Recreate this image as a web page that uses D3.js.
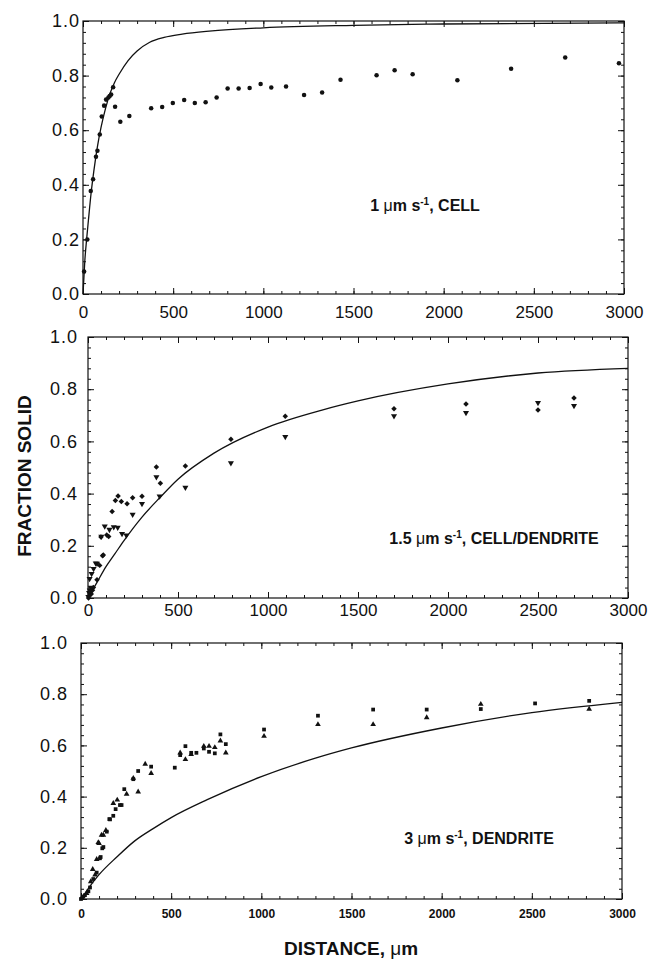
<!DOCTYPE html>
<html>
<head>
<meta charset="utf-8">
<script src="https://cdn.jsdelivr.net/npm/d3@7"></script>
<style>
  body { margin: 0; background: #fff; }
  svg { display: block; }
  text { font-family: "Liberation Sans", Arial, sans-serif; fill: #111; }
</style>
</head>
<body>
<div id="chart"></div>
<script>
// tick labels
const xTickValues = [0, 500, 1000, 1500, 2000, 2500, 3000];
const yTickValues = [0, 0.2, 0.4, 0.6, 0.8, 1.0];

// 1 um/s, cell : measured points + model curve
const cellPoints = [[6,0.082],[24,0.20],[43,0.377],[56,0.42],[72,0.503],[80,0.525],[93,0.584],[104,0.65],[117,0.69],[128,0.712],[141,0.72],[148,0.725],[156,0.731],[167,0.757],[178,0.686],[207,0.631],[257,0.652],[378,0.68],[439,0.685],[498,0.70],[561,0.711],[620,0.70],[680,0.702],[741,0.72],[802,0.753],[863,0.753],[924,0.755],[985,0.769],[1044,0.756],[1126,0.76],[1226,0.729],[1326,0.738],[1428,0.785],[1628,0.801],[1728,0.82],[1828,0.805],[2076,0.783],[2374,0.825],[2674,0.866],[2972,0.845]];
const cellCurve = [[0,0],[5,0.06],[10,0.12],[20,0.2],[30,0.27],[45,0.37],[60,0.45],[80,0.54],[100,0.61],[125,0.68],[150,0.735],[175,0.775],[200,0.805],[250,0.855],[300,0.89],[370,0.922],[450,0.94],[550,0.952],[700,0.963],[1000,0.975],[1500,0.984],[2000,0.989],[3000,0.993]];

// 1.5 um/s, cell/dendrite
const cdDiamonds = [[3,0.0],[8,0.01],[12,0.02],[18,0.015],[25,0.03],[30,0.04],[50,0.07],[65,0.125],[72,0.234],[81,0.162],[85,0.165],[104,0.241],[115,0.236],[134,0.331],[152,0.374],[167,0.391],[185,0.37],[217,0.361],[248,0.384],[300,0.39],[380,0.502],[402,0.44],[541,0.506],[794,0.608],[1096,0.696],[1700,0.725],[2100,0.743],[2500,0.72],[2700,0.766]];
const cdTriangles = [[2,0.005],[6,0.02],[10,0.03],[15,0.04],[9,0.074],[20,0.093],[31,0.112],[43,0.133],[50,0.132],[74,0.236],[93,0.275],[119,0.262],[143,0.272],[165,0.27],[189,0.246],[213,0.24],[248,0.32],[300,0.361],[380,0.464],[398,0.39],[541,0.423],[794,0.517],[1096,0.618],[1700,0.697],[2100,0.71],[2500,0.748],[2700,0.737]];
const cdCurve = [[0,0],[25,0.03],[50,0.06],[100,0.12],[150,0.17],[200,0.22],[300,0.31],[400,0.385],[500,0.455],[700,0.555],[1000,0.655],[1300,0.72],[1500,0.755],[2000,0.82],[2500,0.862],[3000,0.88]];

// 3 um/s, dendrite
const dSquares = [[0,0],[13,0.01],[22,0.015],[41,0.03],[50,0.045],[68,0.078],[87,0.103],[105,0.159],[109,0.164],[118,0.198],[124,0.203],[143,0.263],[157,0.312],[161,0.311],[179,0.325],[192,0.351],[216,0.367],[225,0.367],[240,0.429],[290,0.468],[317,0.50],[389,0.517],[520,0.513],[550,0.562],[579,0.597],[611,0.571],[640,0.571],[681,0.588],[710,0.575],[742,0.569],[773,0.643],[803,0.605],[1015,0.662],[1314,0.716],[1620,0.74],[1917,0.74],[2217,0.742],[2518,0.764],[2818,0.774]];
const dTriangles = [[5,0.005],[31,0.022],[54,0.068],[65,0.116],[78,0.094],[87,0.155],[96,0.221],[100,0.217],[114,0.25],[124,0.25],[138,0.268],[179,0.374],[201,0.387],[253,0.41],[290,0.472],[317,0.419],[356,0.527],[389,0.491],[550,0.571],[579,0.545],[611,0.565],[681,0.597],[710,0.597],[742,0.592],[773,0.618],[803,0.571],[1015,0.636],[1314,0.682],[1620,0.682],[1917,0.709],[2217,0.761],[2818,0.742]];
const dCurve = [[0,0],[25,0.025],[50,0.05],[100,0.095],[200,0.165],[300,0.228],[400,0.275],[500,0.318],[700,0.388],[1000,0.478],[1300,0.55],[1500,0.59],[2000,0.668],[2500,0.728],[3000,0.768]];

const W = 649, H = 959;
const ink = "#111";

const svg = d3.select("#chart")
    .append("svg")
    .attr("width", W)
    .attr("height", H);

const drawPanel = (p) => {
    const x = d3.scaleLinear().domain([0, 3000]).range([p.left, p.right]);
    const y = d3.scaleLinear().domain([0, 1]).range([p.bottom, p.top]);
    const g = svg.append("g");

    const xMinor = d3.range(0, 3001, 100);
    const yMinor = d3.range(0, 1.0001, 0.04);

    // minor ticks, all four sides, pointing inward
    g.append("g").attr("transform", `translate(0,${p.bottom})`)
        .call(d3.axisBottom(x).tickValues(xMinor).tickSize(-3).tickFormat(""));
    g.append("g").attr("transform", `translate(0,${p.top})`)
        .call(d3.axisTop(x).tickValues(xMinor).tickSize(-3).tickFormat(""));
    g.append("g").attr("transform", `translate(${p.left},0)`)
        .call(d3.axisLeft(y).tickValues(yMinor).tickSize(-3).tickFormat(""));
    g.append("g").attr("transform", `translate(${p.right},0)`)
        .call(d3.axisRight(y).tickValues(yMinor).tickSize(-3).tickFormat(""));

    // major ticks with labels
    const xa = g.append("g").attr("transform", `translate(0,${p.bottom})`)
        .call(d3.axisBottom(x).tickValues(xTickValues).tickSize(-6)
            .tickPadding(p.xPad).tickFormat(d3.format("d")));
    xa.selectAll("text").style("font-size", p.xFont + "px")
        .style("font-weight", p.xBold ? "bold" : "normal");
    const ya = g.append("g").attr("transform", `translate(${p.left},0)`)
        .call(d3.axisLeft(y).tickValues(yTickValues).tickSize(-6)
            .tickPadding(p.yPad).tickFormat(d3.format(".1f")));
    ya.selectAll("text").style("font-size", "18px").style("letter-spacing", "1px");
    g.append("g").attr("transform", `translate(0,${p.top})`)
        .call(d3.axisTop(x).tickValues(xTickValues).tickSize(-6).tickFormat(""));
    g.append("g").attr("transform", `translate(${p.right},0)`)
        .call(d3.axisRight(y).tickValues(yTickValues).tickSize(-6).tickFormat(""));

    g.selectAll(".domain").remove();
    g.selectAll(".tick line").attr("stroke", ink);
    g.selectAll(".tick text").attr("fill", ink);

    // frame
    g.append("rect")
        .attr("x", p.left).attr("y", p.top)
        .attr("width", p.right - p.left).attr("height", p.bottom - p.top)
        .attr("fill", "none").attr("stroke", ink).attr("stroke-width", 1.2);

    // model curve
    const line = d3.line()
        .x(d => x(d[0]))
        .y(d => y(d[1]))
        .curve(d3.curveMonotoneX);
    g.append("path")
        .attr("d", line(p.curve))
        .attr("fill", "none")
        .attr("stroke", ink)
        .attr("stroke-width", 1.3);

    // measured points
    p.series.forEach(s => {
        const sym = d3.symbol().type(s.type).size(s.size);
        g.append("g")
            .selectAll("path")
            .data(s.data)
            .enter()
            .append("path")
            .attr("d", sym)
            .attr("transform", d => `translate(${x(d[0])},${y(d[1])})` + (s.rot ? ` rotate(${s.rot})` : ""))
            .attr("fill", ink);
    });

    // panel label
    const t = g.append("text")
        .attr("x", p.labelX)
        .attr("y", p.labelY)
        .attr("text-anchor", "middle")
        .style("font-size", "16px")
        .style("font-weight", "bold");
    t.append("tspan").text(p.labelA + " ");
    t.append("tspan").style("font-weight", "normal").text("\u03bc");
    t.append("tspan").text("m s");
    t.append("tspan").attr("dy", -6).style("font-size", "10px").text("-1");
    t.append("tspan").attr("dy", 6).text(", " + p.labelB);
};

drawPanel({
    left: 83, right: 624, top: 21, bottom: 294,
    xPad: 12, xFont: 17, xBold: false, yPad: 3,
    curve: cellCurve,
    series: [{ data: cellPoints, type: d3.symbolCircle, size: 16 }],
    labelA: "1", labelB: "CELL", labelX: 425, labelY: 211
});

drawPanel({
    left: 88, right: 628, top: 337, bottom: 598,
    xPad: 6, xFont: 17, xBold: false, yPad: 10,
    curve: cdCurve,
    series: [
        { data: cdDiamonds, type: d3.symbolSquare, size: 15, rot: 45 },
        { data: cdTriangles, type: d3.symbolTriangle, size: 16, rot: 180 }
    ],
    labelA: "1.5", labelB: "CELL/DENDRITE", labelX: 494, labelY: 544
});

drawPanel({
    left: 81, right: 622, top: 643, bottom: 899,
    xPad: 10, xFont: 12, xBold: true, yPad: 13,
    curve: dCurve,
    series: [
        { data: dSquares, type: d3.symbolSquare, size: 14 },
        { data: dTriangles, type: d3.symbolTriangle, size: 14 }
    ],
    labelA: "3", labelB: "DENDRITE", labelX: 479, labelY: 844
});

// axis titles
svg.append("text")
    .attr("transform", "translate(31,476) rotate(-90)")
    .attr("text-anchor", "middle")
    .style("font-size", "19px")
    .style("font-weight", "bold")
    .text("FRACTION SOLID");

const xt = svg.append("text")
    .attr("x", 351)
    .attr("y", 955)
    .attr("text-anchor", "middle")
    .style("font-size", "19px")
    .style("font-weight", "bold");
xt.append("tspan").text("DISTANCE, ");
xt.append("tspan").style("font-weight", "normal").text("\u03bc");
xt.append("tspan").text("m");
</script>
</body>
</html>
